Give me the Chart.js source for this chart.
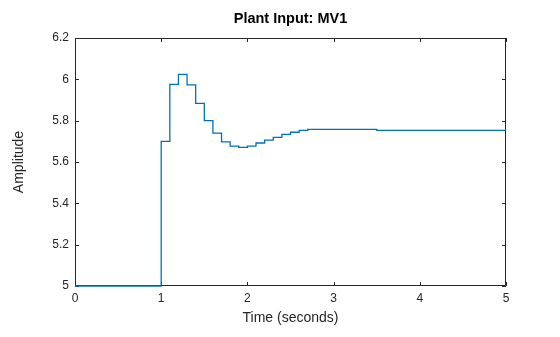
<!DOCTYPE html>
<html>
<head>
<meta charset="utf-8">
<script src="https://cdn.jsdelivr.net/npm/chart.js@4.4.1/dist/chart.umd.min.js"></script>
<style>
  html, body { margin: 0; padding: 0; background: #fff; }
</style>
</head>
<body>
<canvas id="plantChart" width="560" height="337"></canvas>
<script>
// sample times (s) and MV1 held value from each time on (zero-order hold)
const times = [0, 1.0, 1.1, 1.2, 1.3, 1.4, 1.5, 1.6, 1.7, 1.8, 1.9, 2.0, 2.1, 2.2, 2.3, 2.4, 2.5, 2.6, 2.7, 3.5, 5.0];
const mv1 = [5, 5.700, 5.976, 6.024, 5.973, 5.884, 5.800, 5.740, 5.697, 5.677, 5.671, 5.677, 5.692, 5.706, 5.719, 5.734, 5.744, 5.753, 5.758, 5.753, 5.753];

const xTicks = [0, 1, 2, 3, 4, 5];
const xTickLabels = ['0', '1', '2', '3', '4', '5'];
const yTicks = [5, 5.2, 5.4, 5.6, 5.8, 6, 6.2];
const yTickLabels = ['5', '5.2', '5.4', '5.6', '5.8', '6', '6.2'];

const chartTitle = 'Plant Input: MV1';
const axisColor = '#262626';

// box around the plot with inward ticks, like matlab
const boxAxes = {
  id: 'boxAxes',
  beforeDatasetsDraw(chart) {
    const { ctx, chartArea: a, scales: { x, y } } = chart;
    const len = 4;
    ctx.save();
    ctx.strokeStyle = axisColor;
    ctx.lineWidth = 1;
    ctx.beginPath();
    ctx.rect(a.left + 0.5, a.top + 0.5, a.right - a.left - 1, a.bottom - a.top - 1);
    xTicks.forEach(v => {
      const px = Math.round(x.getPixelForValue(v)) + 0.5;
      ctx.moveTo(px, a.bottom); ctx.lineTo(px, a.bottom - len);
      ctx.moveTo(px, a.top); ctx.lineTo(px, a.top + len);
    });
    yTicks.forEach(v => {
      const py = Math.round(y.getPixelForValue(v)) + 0.5;
      ctx.moveTo(a.left, py); ctx.lineTo(a.left + len, py);
      ctx.moveTo(a.right, py); ctx.lineTo(a.right - len, py);
    });
    ctx.stroke();
    ctx.restore();
  },
  // title centred over the axes, not the whole canvas
  afterDraw(chart) {
    const { ctx, chartArea: a } = chart;
    ctx.save();
    ctx.fillStyle = '#000';
    ctx.font = 'bold 14.5px Arial';
    ctx.textAlign = 'center';
    ctx.textBaseline = 'middle';
    ctx.fillText(chartTitle, (a.left + a.right) / 2, 19);
    ctx.restore();
  }
};

const ctx = document.getElementById('plantChart').getContext('2d');
new Chart(ctx, {
  type: 'line',
  data: {
    datasets: [{
      data: times.map((t, i) => ({ x: t, y: mv1[i] })),
      borderColor: '#0072BD',
      borderWidth: 1.3,
      pointRadius: 0,
      stepped: 'before',
      fill: false,
      clip: false
    }]
  },
  options: {
    responsive: false,
    animation: false,
    layout: { padding: { top: 38, right: 54 } },
    plugins: {
      legend: { display: false },
      tooltip: { enabled: false },
      title: { display: false }
    },
    scales: {
      x: {
        type: 'linear',
        min: 0,
        max: 5,
        afterFit: s => { s.height = 51; },
        afterBuildTicks: s => { s.ticks = xTicks.map(v => ({ value: v })); },
        grid: { display: false, drawTicks: false },
        border: { display: false },
        ticks: {
          color: axisColor,
          padding: 5,
          maxRotation: 0,
          font: { family: 'Arial', size: 12 },
          callback: (v, i) => xTickLabels[i]
        },
        title: {
          display: true,
          text: 'Time (seconds)',
          color: axisColor,
          font: { family: 'Arial', size: 14 },
          padding: { bottom: 10 }
        }
      },
      y: {
        min: 5,
        max: 6.2,
        afterFit: s => { s.width = 75; },
        afterBuildTicks: s => { s.ticks = yTicks.map(v => ({ value: v })); },
        grid: { display: false, drawTicks: false },
        border: { display: false },
        ticks: {
          color: axisColor,
          padding: 6,
          font: { family: 'Arial', size: 12 },
          callback: (v, i) => yTickLabels[i]
        },
        title: {
          display: true,
          text: 'Amplitude',
          color: axisColor,
          font: { family: 'Arial', size: 14 },
          padding: { top: 11 }
        }
      }
    }
  },
  plugins: [boxAxes]
});
</script>
</body>
</html>
